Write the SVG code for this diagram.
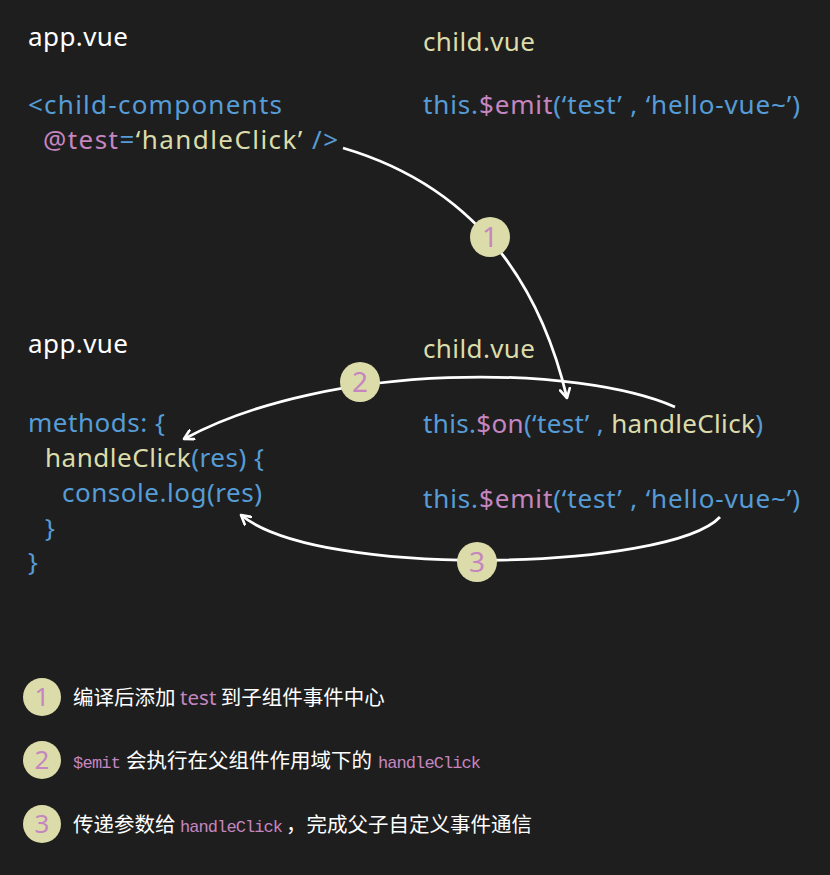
<svg xmlns="http://www.w3.org/2000/svg" width="830" height="875" viewBox="0 0 830 875">
<style>
text{font-family:"Noto Sans","Noto Sans CJK SC",sans-serif;font-size:26px}
.w{fill:#ffffff}.b{fill:#569cd6}.y{fill:#dcdcaa}.p{fill:#c586c0}
.c{fill:#dcdcaa}
.d{fill:#c586c0;font-size:28px;text-anchor:middle}
.ld{fill:#c586c0;font-size:26px;text-anchor:middle}
.lg{font-family:"Noto Sans CJK SC","Noto Sans",sans-serif;font-size:20.5px;fill:#ffffff}
.m{font-family:"Liberation Mono",monospace;font-size:17px;fill:#c586c0}
.e{fill:none;stroke:#ffffff;stroke-width:2.8}
</style>
<defs>
<marker id="ah" viewBox="0 0 12 12" refX="10" refY="6" markerWidth="12" markerHeight="12" markerUnits="userSpaceOnUse" orient="auto">
<path d="M1,1 L10,6 L1,11" fill="none" stroke="#ffffff" stroke-width="2.6" stroke-linecap="round" stroke-linejoin="round"/>
</marker>
</defs>
<rect width="830" height="875" fill="#1e1e1e"/>
<g id="connectors">
<path class="e" d="M343,148 Q520,200 567,398" marker-end="url(#ah)"/>
<path class="e" d="M675,407 C580,365 330,360 184,439" marker-end="url(#ah)"/>
<path class="e" d="M720,517 C670,570 320,580 241,515" marker-end="url(#ah)"/>
</g>
<g id="app-top">
<text class="w" x="28" y="46" textLength="100">app.vue</text>
<text class="b" x="28" y="114" textLength="254">&lt;child-components</text>
<text x="43" y="149" textLength="295"><tspan class="p">@test</tspan><tspan class="b">=</tspan><tspan class="y">‘handleClick’</tspan><tspan class="b"> /&gt;</tspan></text>
</g>
<g id="child-top">
<text class="y" x="423" y="51" textLength="112">child.vue</text>
<text x="423" y="114" textLength="377"><tspan class="b">this.</tspan><tspan class="p">$emit</tspan><tspan class="b">(‘test’ , ‘hello-vue~’)</tspan></text>
</g>
<g id="app-bottom">
<text class="w" x="28" y="353" textLength="100">app.vue</text>
<text class="b" x="28" y="432" textLength="137">methods: {</text>
<text x="45" y="467" textLength="219"><tspan class="y">handleClick</tspan><tspan class="b">(res) {</tspan></text>
<text class="b" x="62" y="502" textLength="200">console.log(res)</text>
<text class="b" x="45" y="537">}</text>
<text class="b" x="28" y="571">}</text>
</g>
<g id="child-bottom">
<text class="y" x="423" y="358" textLength="112">child.vue</text>
<text x="423" y="433" textLength="340"><tspan class="b">this.</tspan><tspan class="p">$on</tspan><tspan class="b">(‘test’ , </tspan><tspan class="y">handleClick</tspan><tspan class="b">)</tspan></text>
<text x="423" y="508" textLength="377"><tspan class="b">this.</tspan><tspan class="p">$emit</tspan><tspan class="b">(‘test’ , ‘hello-vue~’)</tspan></text>
</g>
<g id="step1">
<circle class="c" cx="490" cy="237" r="20"/>
<text class="d" x="490" y="247">1</text>
</g>
<g id="step2">
<circle class="c" cx="360" cy="382" r="20"/>
<text class="d" x="360" y="392">2</text>
</g>
<g id="step3">
<circle class="c" cx="477" cy="562" r="20"/>
<text class="d" x="477" y="572">3</text>
</g>
<g id="legend1">
<circle class="c" cx="42" cy="697" r="19"/>
<text class="ld" x="42" y="706">1</text>
<text class="lg" x="73" y="705">编译后添加 <tspan class="p" font-family="Noto Sans,sans-serif">test</tspan> 到子组件事件中心</text>
</g>
<g id="legend2">
<circle class="c" cx="42" cy="760" r="19"/>
<text class="ld" x="42" y="769">2</text>
<text class="lg" x="73" y="768"><tspan class="m" textLength="48">$emit</tspan><tspan x="126">会执行在父组件作用域下的</tspan><tspan class="m" x="378" textLength="103">handleClick</tspan></text>
</g>
<g id="legend3">
<circle class="c" cx="42" cy="824" r="19"/>
<text class="ld" x="42" y="833">3</text>
<text class="lg" x="73" y="832">传递参数给<tspan class="m" x="180" font-size="16" textLength="103">handleClick</tspan><tspan x="286">，完成父子自定义事件通信</tspan></text>
</g>
</svg>
